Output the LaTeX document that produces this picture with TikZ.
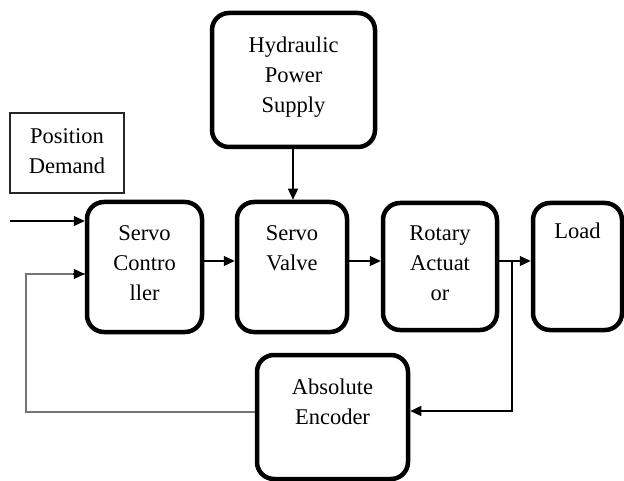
\documentclass[tikz,border=0pt]{standalone}
\usepackage{fontspec}
\setmainfont{Liberation Serif}
\usetikzlibrary{arrows.meta}
\begin{document}
\begin{tikzpicture}[x=1pt,y=-1pt,
  blk/.style={draw=black,line width=4.5pt,rounded corners=17pt,inner sep=0pt,outer sep=2.25pt},
  plain/.style={draw=black!85,line width=1.3pt,inner sep=0pt,outer sep=0.6pt},
  txt/.style={font=\fontsize{22.5}{30}\selectfont,align=center,anchor=north,inner sep=0pt},
  conn/.style={line width=1.2pt,-{Triangle[length=11pt,width=10pt]}},
  fb/.style={line width=1.6pt,draw=black!55}]
\useasboundingbox (0,0) rectangle (624,481);
% boxes
\node[plain,minimum width=114pt,minimum height=80pt] (pd) at (67,153) {};
\node[blk,minimum width=115pt,minimum height=130pt] (sc) at (144.5,267) {};
\node[blk,minimum width=110pt,minimum height=130pt] (sv) at (292,267) {};
\node[blk,minimum width=163pt,minimum height=134pt] (hp) at (293.5,80) {};
\node[blk,minimum width=114pt,minimum height=127pt] (ra) at (440,266.5) {};
\node[blk,minimum width=89pt,minimum height=127pt] (ld) at (577.5,266.5) {};
\node[blk,minimum width=151pt,minimum height=124pt] (ae) at (332.5,417) {};
% texts
\node[txt] (pdT) at (67,128) {Position\\Demand};
\node[txt] (hpT) at (293.5,37) {Hydraulic\\Power\\Supply};
\node[txt] (scT) at (144.5,225.5) {Servo\\Contro\\ller};
\node[txt] (svT) at (292,225.5) {Servo\\Valve};
\node[txt] (raT) at (440,225.5) {Rotary\\Actuat\\or};
\node[txt] (ldT) at (577.5,222.5) {Load};
\node[txt] (aeT) at (332.5,378.5) {Absolute\\Encoder};
% connectors
\coordinate (in) at (10,221);
\coordinate (br) at (512,261);
\coordinate (fbL) at (26,412);
\draw[conn] (in) -- (in -| sc.west);
\draw[conn] (sc.east |- 0,261) -- (sv.west |- 0,261);
\draw[conn] (sv.east |- 0,261) -- (ra.west |- 0,261);
\draw[conn] (ra.east |- 0,261) -- (ld.west |- 0,261);
\draw[conn] (hp.south -| 293,0) -- (sv.north -| 293,0);
\draw[conn] (br) -- (br |- 0,411) -- (ae.east |- 0,411);
\draw[fb] (ae.west |- fbL) -- (fbL) -- (fbL |- 0,274) -- (sc.west |- 0,274);
\draw[conn] ([xshift=-12pt]sc.west |- 0,274) -- (sc.west |- 0,274);
\end{tikzpicture}
\end{document}
